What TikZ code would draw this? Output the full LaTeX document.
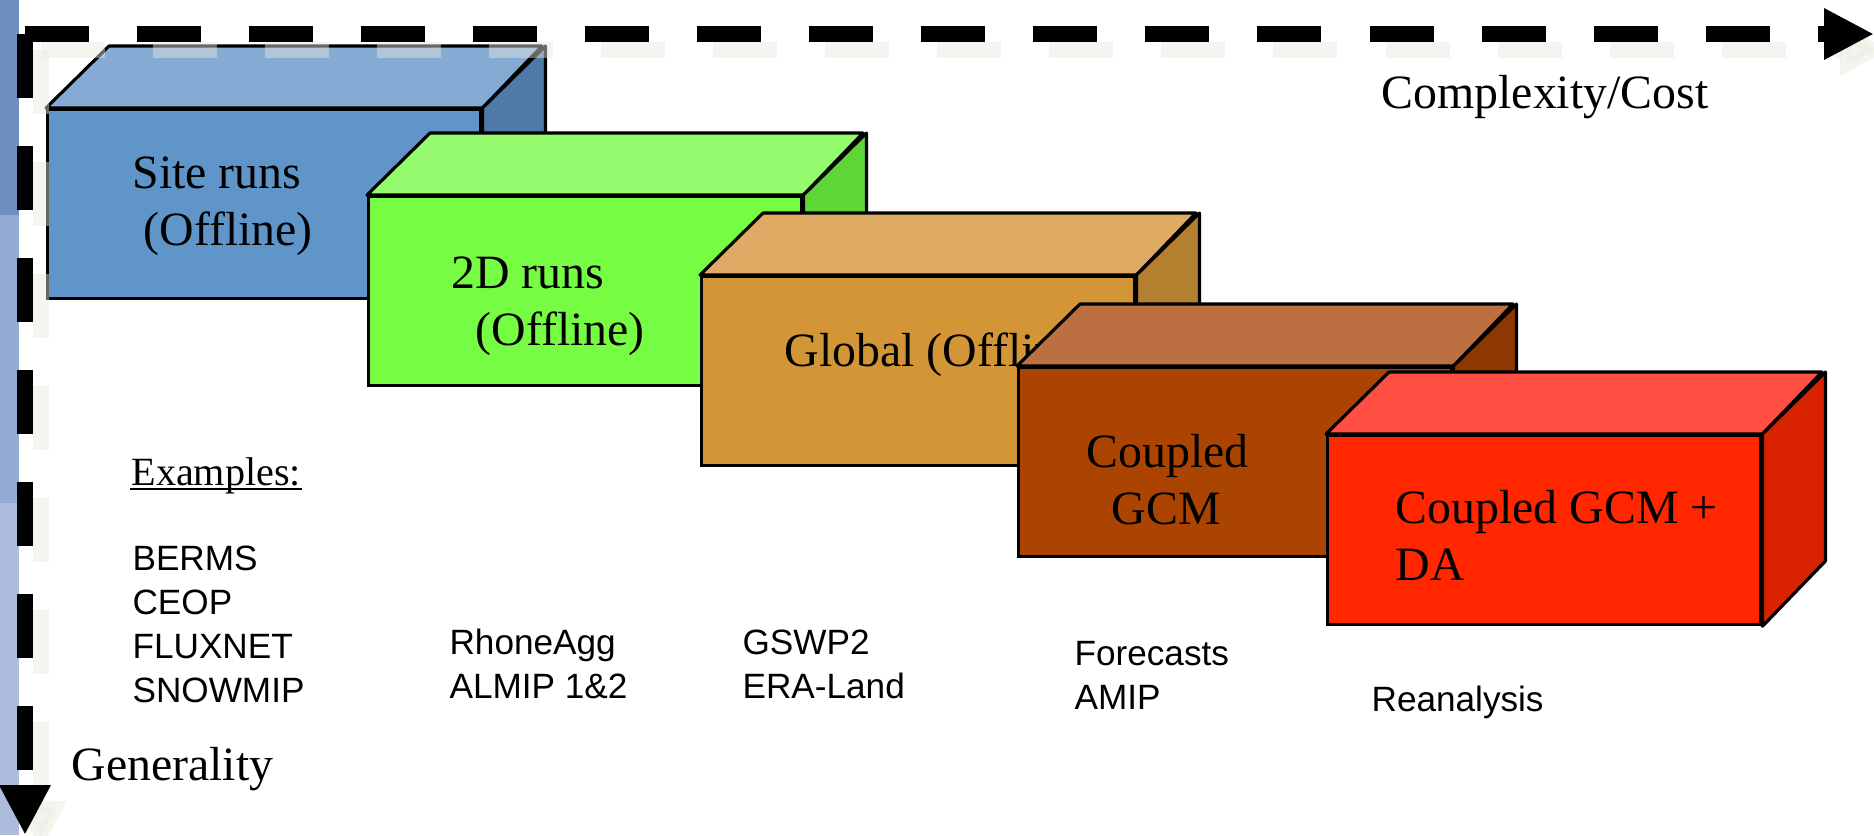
\documentclass[tikz,border=0pt]{standalone}
\usepackage{fontspec}
\setmainfont{Liberation Serif}
\setsansfont{Liberation Sans}
\usepackage{tikz}
\usetikzlibrary{arrows.meta}
\usetikzlibrary{positioning}

\definecolor{site-f}{RGB}{95,149,200}
\definecolor{site-t}{RGB}{133,170,212}
\definecolor{site-s}{RGB}{79,122,168}
\definecolor{twod-f}{RGB}{119,252,68}
\definecolor{twod-t}{RGB}{150,250,110}
\definecolor{twod-s}{RGB}{94,214,56}
\definecolor{glob-f}{RGB}{211,150,54}
\definecolor{glob-t}{RGB}{222,170,100}
\definecolor{glob-s}{RGB}{178,128,46}
\definecolor{cpl-f}{RGB}{170,68,0}
\definecolor{cpl-t}{RGB}{188,112,66}
\definecolor{cpl-s}{RGB}{140,56,0}
\definecolor{cplda-f}{RGB}{255,38,0}
\definecolor{cplda-t}{RGB}{255,78,66}
\definecolor{cplda-s}{RGB}{216,34,0}
\definecolor{bar1}{RGB}{109,143,191}
\definecolor{bar2}{RGB}{147,170,210}
\definecolor{bar3}{RGB}{173,187,220}
\definecolor{axshd}{RGB}{233,233,222}

\begin{document}
\begin{tikzpicture}
		[x=0.01cm,y=-0.01cm,line width=0.9pt,
		front/.style={draw,minimum width=4.33cm,minimum height=1.89cm,inner sep=0,anchor=north west},
		face/.style={draw,line join=round},
		lbl/.style={anchor=base west,align=left,inner sep=0,font=\fontsize{13.6}{16.2}\selectfont},
		ex/.style={anchor=base west,align=left,inner sep=0,font=\sffamily\fontsize{10}{12.43}\selectfont},
		axis/.style={line width=4.55pt,dash pattern=on 18.2pt off 13.66pt,-{Triangle[length=0.5cm,width=0.48cm]}},
		axshadow/.style={axis,draw=axshd,fill=axshd,opacity=0.45}]
		\useasboundingbox (0,0) rectangle (1874,835);
		
		\fill[bar1] (0,0) rectangle (19,215);
		\fill[bar2] (0,215) rectangle (19,503);
		\fill[bar3] (0,503) rectangle (19,835);
		
		\foreach \n/\x/\y/\c/\tx/\ty/\txt in
		{b1/46/108/site/131/245/{Site runs\\\hspace*{0.11cm}(Offline)},
		 b2/367/195/twod/450/345/{2D runs\\\hspace*{0.24cm}(Offline)},
		 b3/700/275/glob/783/366/{Global (Offline)},
		 b4/1017/366/cpl/1085/524/{Coupled\\\hspace*{0.25cm}GCM},
		 b5/1326/434/cplda/1394/580/{Coupled GCM +\\DA}}
		{
		\node[front,fill=\c-f] (\n) at (\x,\y) {};
		\draw[face,fill=\c-t] (\n.north west) -- ++(63,-62) -- ++(433,0) -- (\n.north east) -- cycle;
		\draw[face,fill=\c-s] (\n.north east) -- ++(63,-62) -- ++(0,189) -- (\n.south east) -- cycle;
		\node[lbl] (\n-t) at (\tx,\ty) {\txt};
		}
		
		\node[lbl] (cost) at (1380,108) {Complexity/Cost};
		\node[lbl] (gen) at (70,780) {Generality};
		\node[lbl,font=\fontsize{11.4}{13}\selectfont] (exh) at (130,485) {Examples:};
		\draw[line width=0.77pt] ([yshift=-0.04cm]exh.base west) -- ([yshift=-0.04cm]exh.base east);
		\node[ex] (e1) at (131,702) {BERMS\\CEOP\\FLUXNET\\SNOWMIP};
		\node[ex] (e2) at (448,698) {RhoneAgg\\ALMIP 1\&2};
		\node[ex] (e3) at (741,698) {GSWP2\\ERA-Land};
		\node[ex] (e4) at (1073,709) {Forecasts\\AMIP};
		\node[ex] (e5) at (1370,711) {Reanalysis};
		
		\coordinate (o) at (25,34);
		\coordinate (xe) at (1874,34);
		\coordinate (ye) at (25,835);
		\coordinate (o2) at (41,50);
		\coordinate (xe2) at (1890,50);
		\coordinate (ye2) at (41,851);
		\draw[axshadow] (o2) -- (xe2);
		\draw[axshadow] (o2) -- (ye2);
		\draw[axis] (o) -- (xe);
		\draw[axis] (o) -- (ye);
\end{tikzpicture}
\end{document}
